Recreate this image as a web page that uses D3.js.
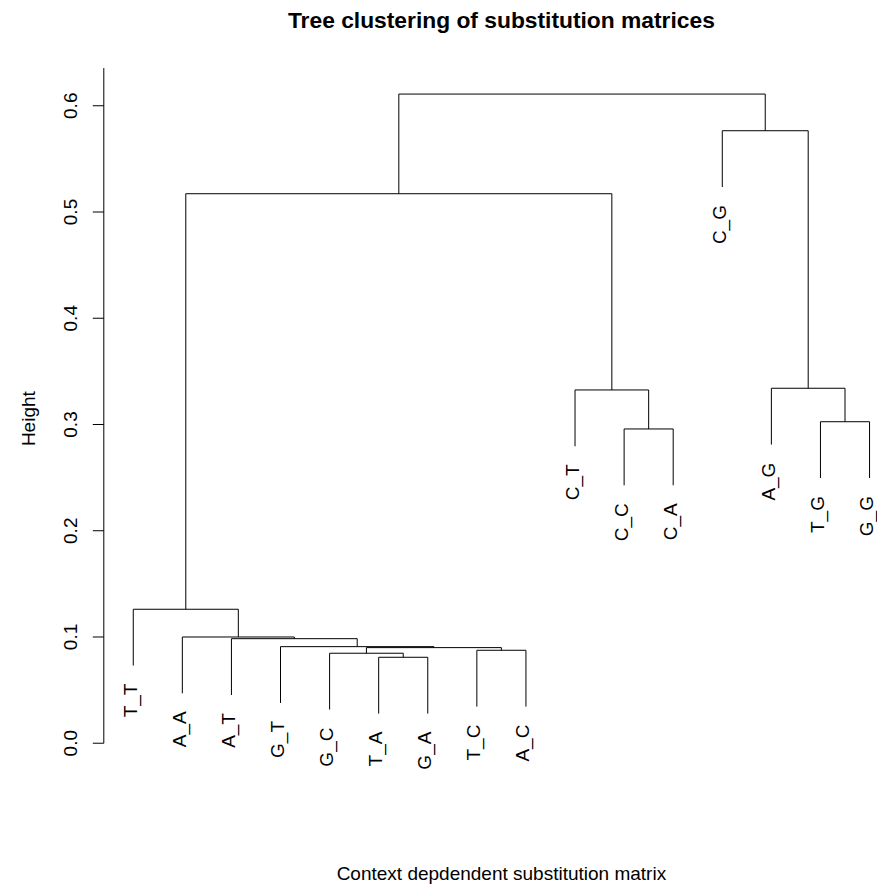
<!DOCTYPE html>
<html>
<head>
<meta charset="utf-8">
<script src="https://cdn.jsdelivr.net/npm/d3@7"></script>
<style>
  html, body { margin: 0; padding: 0; background: #fff; }
  svg { display: block; }
  text { font-family: "Liberation Sans", Arial, Helvetica, sans-serif; fill: #000; }
</style>
</head>
<body>
<div id="chart"></div>
<script>
// leaves, in the order they are drawn (left to right)
const leafLabels = ['T_T', 'A_A', 'A_T', 'G_T', 'G_C', 'T_A', 'G_A', 'T_C', 'A_C',
                    'C_T', 'C_C', 'C_A', 'C_G', 'A_G', 'T_G', 'G_G'];

// merge steps as in hclust: negative = leaf number (1-based), positive = earlier step
const merges = [
  [-6, -7], [-5, 1], [-8, -9], [2, 3], [-4, 4], [-3, 5], [-2, 6], [-1, 7],
  [-11, -12], [-15, -16], [-10, 9], [-14, 10], [8, 11], [-13, 12], [13, 14]
];
const mergeHeights = [0.0809, 0.0847, 0.0875, 0.0900, 0.0909, 0.0984, 0.1000, 0.1261,
                      0.2958, 0.3026, 0.3325, 0.3341, 0.5172, 0.5765, 0.6110];

const yTicks = [0.0, 0.1, 0.2, 0.3, 0.4, 0.5, 0.6];
const hang = 0.1;

const title = 'Tree clustering of substitution matrices';
const xLabel = 'Context depdendent substitution matrix';
const yLabel = 'Height';

const width = 877, height = 886;
// plot region (R style, data range padded 4%)
const plot = { left: 103.8, right: 899, top: 68.1, bottom: 769.2 };
const fontSize = 19;

const svg = d3.select('#chart').append('svg')
  .attr('width', width)
  .attr('height', height);

const n = leafLabels.length;
const maxH = d3.max(mergeHeights);
const hangDist = hang * (maxH - d3.min(mergeHeights));

const x = d3.scaleLinear()
  .domain([1 - 0.04 * (n - 1), n + 0.04 * (n - 1)])
  .range([plot.left, plot.right]);
const y = d3.scaleLinear()
  .domain([-0.04 * maxH, maxH * 1.04])
  .range([plot.bottom, plot.top]);

// node positions: x of each merge is the midpoint of its two children
const nodeX = [];
const childPos = (c, h) => c < 0
  ? { x: -c, h: h - hangDist, leaf: -c - 1 }
  : { x: nodeX[c - 1], h: mergeHeights[c - 1] };

const leafEnds = [];
const segs = [];
merges.forEach((m, i) => {
  const h = mergeHeights[i];
  const a = childPos(m[0], h);
  const b = childPos(m[1], h);
  nodeX.push((a.x + b.x) / 2);
  segs.push({ a, b, h });
  [a, b].forEach(c => { if (c.leaf !== undefined) leafEnds[c.leaf] = c; });
});

// dendrogram branches
svg.append('g')
  .selectAll('path')
  .data(segs)
  .join('path')
  .attr('fill', 'none')
  .attr('stroke', '#000')
  .attr('stroke-width', 1)
  .attr('d', d => `M${x(d.a.x)},${y(d.a.h)}V${y(d.h)}H${x(d.b.x)}V${y(d.b.h)}`);

// leaf labels, rotated, hanging under each leaf
svg.append('g')
  .selectAll('text')
  .data(leafLabels)
  .join('text')
  .attr('transform', (d, i) => `translate(${x(i + 1) + 3.5},${y(leafEnds[i].h) + 18}) rotate(-90)`)
  .attr('text-anchor', 'end')
  .attr('font-size', fontSize)
  .text(d => d);

// y axis
const axis = svg.append('g');
axis.append('line')
  .attr('x1', plot.left).attr('x2', plot.left)
  .attr('y1', y(0)).attr('y2', plot.top)
  .attr('stroke', '#000');
axis.selectAll('line.tick')
  .data(yTicks)
  .join('line')
  .attr('class', 'tick')
  .attr('x1', plot.left - 11).attr('x2', plot.left)
  .attr('y1', d => y(d)).attr('y2', d => y(d))
  .attr('stroke', '#000');
axis.selectAll('text')
  .data(yTicks)
  .join('text')
  .attr('transform', d => `translate(77,${y(d)}) rotate(-90)`)
  .attr('text-anchor', 'middle')
  .attr('font-size', fontSize)
  .text(d => d3.format('.1f')(d));

// titles
const midX = (plot.left + plot.right) / 2;
svg.append('text')
  .attr('x', midX).attr('y', 28)
  .attr('text-anchor', 'middle')
  .attr('font-size', fontSize * 1.2)
  .attr('font-weight', 'bold')
  .text(title);

svg.append('text')
  .attr('x', midX).attr('y', 880)
  .attr('text-anchor', 'middle')
  .attr('font-size', fontSize)
  .text(xLabel);

svg.append('text')
  .attr('transform', `translate(34.8,${(plot.top + plot.bottom) / 2}) rotate(-90)`)
  .attr('text-anchor', 'middle')
  .attr('font-size', fontSize)
  .text(yLabel);
</script>
</body>
</html>
